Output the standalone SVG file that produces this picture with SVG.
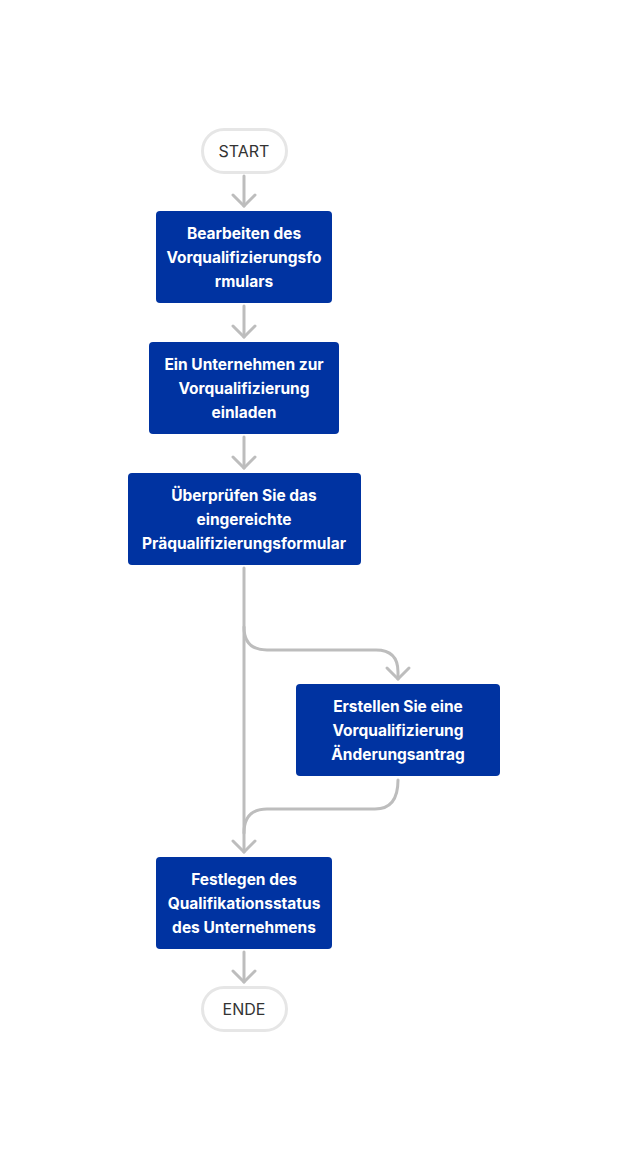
<svg xmlns="http://www.w3.org/2000/svg" width="628" height="1160" viewBox="0 0 628 1160">
<defs>
<style>
.term{fill:#ffffff;stroke:#e6e6e6;stroke-width:3}
.termtxt{font-family:Inter,"Liberation Sans",sans-serif;font-size:16px;fill:#333333;text-anchor:middle}
.box{fill:#0033a1}
.txt{font-family:Inter,"Liberation Sans",sans-serif;font-size:15.5px;font-weight:700;fill:#ffffff;text-anchor:middle}
.edge{fill:none;stroke:#bdbdbd;stroke-width:3;stroke-linecap:round;stroke-linejoin:round}
</style>
<marker id="arr" markerUnits="userSpaceOnUse" markerWidth="30" markerHeight="30" viewBox="-15 -15 30 30" refX="0" refY="0" orient="auto">
<path d="M-11,-11 L0,0 L-11,11" fill="none" stroke="#bdbdbd" stroke-width="3" stroke-linecap="round" stroke-linejoin="round"/>
</marker>
</defs>
<rect width="628" height="1160" fill="#ffffff"/>
<g id="connectors">
<path class="edge" d="M244,176 V206" marker-end="url(#arr)"/>
<path class="edge" d="M244,306 V337" marker-end="url(#arr)"/>
<path class="edge" d="M244,437 V468" marker-end="url(#arr)"/>
<path class="edge" d="M244,568 V852" marker-end="url(#arr)"/>
<path class="edge" d="M244,627 Q244,650 267,650 H376 Q398,650 398,672 V679" marker-end="url(#arr)"/>
<path class="edge" d="M398,780 Q398,809 375,809 H267 Q244,809 244,833"/>
<path class="edge" d="M244,952 V982" marker-end="url(#arr)"/>
</g>
<g id="start">
<rect class="term" x="202.5" y="129.5" width="84" height="43" rx="21.5"/>
<text class="termtxt" x="244" y="157">START</text>
</g>
<g id="n1">
<rect class="box" x="156" y="211" width="176" height="92" rx="4"/>
<text class="txt" x="244" y="239">Bearbeiten des</text>
<text class="txt" x="244" y="263">Vorqualifizierungsfo</text>
<text class="txt" x="244" y="287">rmulars</text>
</g>
<g id="n2">
<rect class="box" x="149" y="342" width="190" height="92" rx="4"/>
<text class="txt" x="244" y="370">Ein Unternehmen zur</text>
<text class="txt" x="244" y="394">Vorqualifizierung</text>
<text class="txt" x="244" y="418">einladen</text>
</g>
<g id="n3">
<rect class="box" x="128" y="473" width="233" height="92" rx="4"/>
<text class="txt" x="244" y="501">Überprüfen Sie das</text>
<text class="txt" x="244" y="525">eingereichte</text>
<text class="txt" x="244" y="549">Präqualifizierungsformular</text>
</g>
<g id="n4">
<rect class="box" x="296" y="684" width="204" height="92" rx="4"/>
<text class="txt" x="398" y="712">Erstellen Sie eine</text>
<text class="txt" x="398" y="736">Vorqualifizierung</text>
<text class="txt" x="398" y="760">Änderungsantrag</text>
</g>
<g id="n5">
<rect class="box" x="156" y="857" width="176" height="92" rx="4"/>
<text class="txt" x="244" y="885">Festlegen des</text>
<text class="txt" x="244" y="909">Qualifikationsstatus</text>
<text class="txt" x="244" y="933">des Unternehmens</text>
</g>
<g id="end">
<rect class="term" x="202.5" y="987.5" width="84" height="43" rx="21.5"/>
<text class="termtxt" x="244" y="1015">ENDE</text>
</g>
</svg>
